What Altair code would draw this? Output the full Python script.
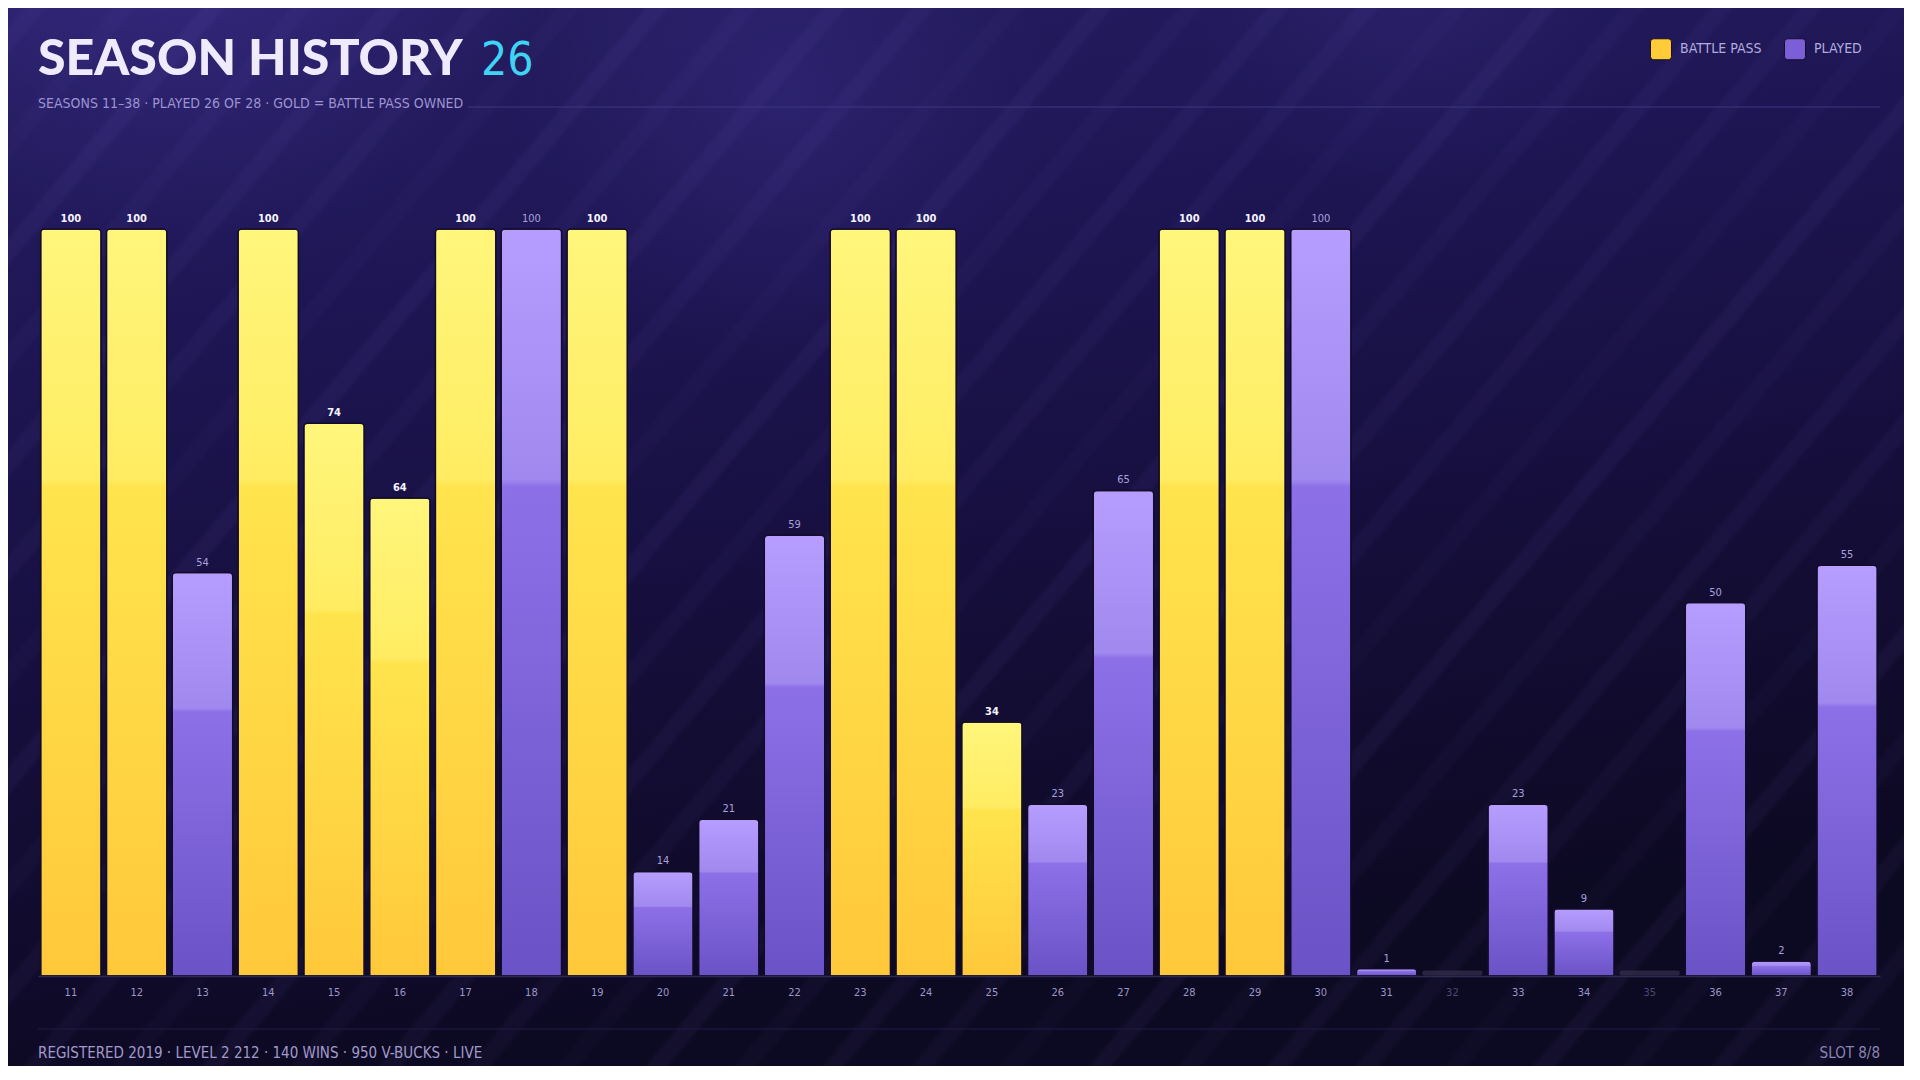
import math
import altair as alt
import pandas as pd

# ---------------- data ----------------
seasons = ["11", "12", "13", "14", "15", "16", "17", "18", "19", "20",
           "21", "22", "23", "24", "25", "26", "27", "28", "29", "30",
           "31", "32", "33", "34", "35", "36", "37", "38"]
progress = [100, 100, 54, 100, 74, 64, 100, 100, 100, 14,
            21, 59, 100, 100, 34, 23, 65, 100, 100, 100,
            1, 0, 23, 9, 0, 50, 2, 55]
battle_pass = [1, 1, 0, 1, 1, 1, 1, 0, 1, 0,
               0, 0, 1, 1, 1, 0, 0, 1, 1, 0,
               0, 0, 0, 0, 0, 0, 0, 0]
played = [1, 1, 1, 1, 1, 1, 1, 1, 1, 1,
          1, 1, 1, 1, 1, 1, 1, 1, 1, 1,
          1, 0, 1, 1, 0, 1, 1, 1]

legend_labels = ["BATTLE PASS", "PLAYED"]
legend_colors = ["#FFCB38", "#7A5FD8"]

title_text = "SEASON HISTORY"
title_count = "26"
subtitle_text = "SEASONS 11–38  ·  PLAYED 26 OF 28  ·  GOLD = BATTLE PASS OWNED"
footer_text = "REGISTERED 2019  ·  LEVEL 2 212  ·  140 WINS  ·  950 V-BUCKS  ·  LIVE"
footer_right = "SLOT 8/8"

kinds = []
for bp, pl in zip(battle_pass, played):
    kinds.append("BATTLE PASS" if bp else ("PLAYED" if pl else "UNPLAYED"))

df = pd.DataFrame({"season": seasons, "value": progress, "kind": kinds})
one = pd.DataFrame({"k": [0]})

# ---------------- layout / style ----------------
W, H = 1842, 747
PAD = {"left": 30, "top": 221, "right": 24, "bottom": 90}
BX0, BX1 = -PAD["left"], W + PAD["right"]
BY0, BY1 = -PAD["top"], H + PAD["bottom"]
BW, BH = BX1 - BX0, BY1 - BY0

NARROW = "'Liberation Sans Narrow', 'Arial Narrow', 'DejaVu Sans Condensed', sans-serif"
HEAVY = "Lato, Inter, 'Noto Sans', sans-serif"

def stops(pairs):
    return [alt.GradientStop(offset=o, color=c) for o, c in pairs]

gold_grad = alt.LinearGradient(
    gradient="linear", x1=0, y1=0, x2=0, y2=1,
    stops=stops([(0, "#FFF67C"), (0.335, "#FFEC62"), (0.345, "#FFE44E"), (1, "#FFC83A")]))
purple_grad = alt.LinearGradient(
    gradient="linear", x1=0, y1=0, x2=0, y2=1,
    stops=stops([(0, "#B69DFF"), (0.335, "#A089EE"), (0.345, "#8D70E8"), (1, "#6A53C6")]))

base_grad = alt.LinearGradient(
    gradient="linear", x1=0, y1=0, x2=0.25, y2=1,
    stops=stops([(0, "#261d62"), (0.3, "#1e1654"), (0.6, "#160f3e"),
                 (0.85, "#100b2b"), (1, "#0c0922")]))

# diagonal stripe pattern (decorative background)
theta = math.radians(50)
a = math.sin(theta) * BW
b = math.cos(theta) * BH
s = (a + b) / (a * a + b * b)
D = a + b
period = 68 / D
sw = 22 / D
edge = 5 / D
alphas = [0.04, 0.025, 0.05, 0.03, 0.045]
stripe_stops = []
t = 10 / D
k = 0
while t + sw < 0.999:
    c = f"rgba(160,140,255,{alphas[k % len(alphas)]})"
    z = "rgba(160,140,255,0)"
    stripe_stops += [(t, z), (t + edge, c), (t + sw - edge, c), (t + sw, z)]
    t += period
    k += 1
stripe_grad = alt.LinearGradient(gradient="linear", x1=0, y1=0, x2=s * a, y2=s * b,
                                 stops=stops(stripe_stops))

def glow(cx, cy, r, col):
    return alt.RadialGradient(gradient="radial", x1=cx, y1=cy, r1=0, x2=cx, y2=cy, r2=r,
                              stops=stops([(0, col), (1, "rgba(90,70,200,0)")]))

def bg_rect(fill):
    return alt.Chart(one).mark_rect(fill=fill).encode(
        x=alt.value(BX0), x2=alt.value(BX1), y=alt.value(BY0), y2=alt.value(BY1))

bg_layers = [
    bg_rect(base_grad),
    bg_rect(glow(0.09, 0.16, 0.2, "rgba(95,75,200,0.30)")),
    bg_rect(glow(0.41, 0.27, 0.14, "rgba(95,75,200,0.18)")),
    bg_rect(glow(0.74, 0.2, 0.12, "rgba(95,75,200,0.15)")),
    bg_rect(stripe_grad),
]

# ---------------- encodings ----------------
unplayed_test = " || ".join(f"datum.label == '{sv}'" for sv, p in zip(seasons, played) if not p)
x_enc = alt.X(
    "season:O", sort=seasons, title=None,
    scale=alt.Scale(paddingInner=0.08, paddingOuter=0.04),
    axis=alt.Axis(labelAngle=0, ticks=False, grid=False, labelPadding=10, zindex=1,
                  labelFont=NARROW, labelFontSize=11,
                  labelColor={"condition": {"test": unplayed_test, "value": "#4d4775"},
                              "value": "#9d96c6"},
                  domainColor="#2f2a52", domainWidth=1.5))
y_enc = alt.Y("value:Q", scale=alt.Scale(domain=[0, 100], nice=False), axis=None)

base = alt.Chart(df)

header_rule = alt.Chart(one).mark_rule(color="#3f3680", strokeWidth=1).encode(
    x=alt.value(430), x2=alt.value(W), y=alt.value(-122))
footer_rule = alt.Chart(one).mark_rule(color="#231d45", strokeWidth=1).encode(
    x=alt.value(0), x2=alt.value(W), y=alt.value(800))

unplayed = base.transform_filter("datum.kind == 'UNPLAYED'").mark_tick(
    orient="horizontal", thickness=5, size=60, yOffset=-3, color="#36314f", cornerRadius=2
).encode(x=x_enc, y=y_enc)

gold_bars = base.transform_filter("datum.kind == 'BATTLE PASS'").mark_bar(
    fill=gold_grad, stroke="#120c2a", strokeWidth=1.5,
    cornerRadiusTopLeft=4, cornerRadiusTopRight=4
).encode(x=x_enc, y=y_enc)

purple_bars = base.transform_filter("datum.kind == 'PLAYED'").mark_bar(
    fill=purple_grad, stroke="#120c2a", strokeWidth=1.5,
    cornerRadiusTopLeft=4, cornerRadiusTopRight=4
).encode(x=x_enc, y=y_enc)

gold_labels = base.transform_filter("datum.kind == 'BATTLE PASS'").mark_text(
    dy=-7, baseline="alphabetic", font=NARROW, fontSize=11, fontWeight="bold", color="#F6F3FF"
).encode(x=x_enc, y=y_enc, text="value:Q")

purple_labels = base.transform_filter("datum.kind == 'PLAYED'").mark_text(
    dy=-7, baseline="alphabetic", font=NARROW, fontSize=11, color="#A9A0DC"
).encode(x=x_enc, y=y_enc, text="value:Q")

# ---------------- texts ----------------
def txt(text, x, y, **kw):
    return alt.Chart(pd.DataFrame({"t": [text]})).mark_text(**kw).encode(
        x=alt.value(x), y=alt.value(y), text="t:N")

title = txt(title_text, 0, -154, align="left", baseline="alphabetic",
            font=HEAVY, fontSize=50, fontWeight=900, color="#EFEBFC")
count = txt(title_count, 443, -154, align="left", baseline="alphabetic",
            font=NARROW, fontSize=46, color="#3FD4F3")
subtitle = txt(subtitle_text, 0, -121, align="left", baseline="alphabetic",
               font=NARROW, fontSize=14, color="#9C93D0")
footer_l = txt(footer_text, 0, 824, align="left", baseline="middle",
               font=NARROW, fontSize=15, color="#A29ACB")
footer_r = txt(footer_right, W, 824, align="right", baseline="middle",
               font=NARROW, fontSize=15, color="#8a83b3")

# legend (real legend from a hidden layer)
rounded_sq = ("M-1,-0.7 Q-1,-1 -0.7,-1 L0.7,-1 Q1,-1 1,-0.7 L1,0.7 Q1,1 0.7,1 "
              "L-0.7,1 Q-1,1 -1,0.7 Z")
legend_layer = alt.Chart(pd.DataFrame({"kind": legend_labels})).mark_point(
    opacity=0, filled=True, shape=rounded_sq
).encode(
    color=alt.Color("kind:N", sort=legend_labels,
                    scale=alt.Scale(domain=legend_labels, range=legend_colors),
                    legend=alt.Legend(title=None, orient="none", legendX=1612, legendY=-191,
                                      direction="horizontal", symbolType=rounded_sq,
                                      symbolSize=440, symbolOpacity=1,
                                      symbolStrokeColor="#1a0f25", symbolStrokeWidth=1,
                                      labelFont=NARROW, labelFontSize=14,
                                      labelColor="#B3ABDF", labelOffset=8,
                                      columnPadding=20))
)

chart = alt.layer(
    *bg_layers,
    header_rule, footer_rule,
    unplayed, gold_bars, purple_bars, gold_labels, purple_labels,
    title, count, subtitle, footer_l, footer_r,
    legend_layer,
).properties(
    width=W, height=H,
    autosize=alt.AutoSizeParams(type="none"),
    padding=PAD,
).configure(
    background="#0c0922",
).configure_view(stroke=None)

chart.save("out.html", embed_options={"renderer": "svg", "actions": False})
